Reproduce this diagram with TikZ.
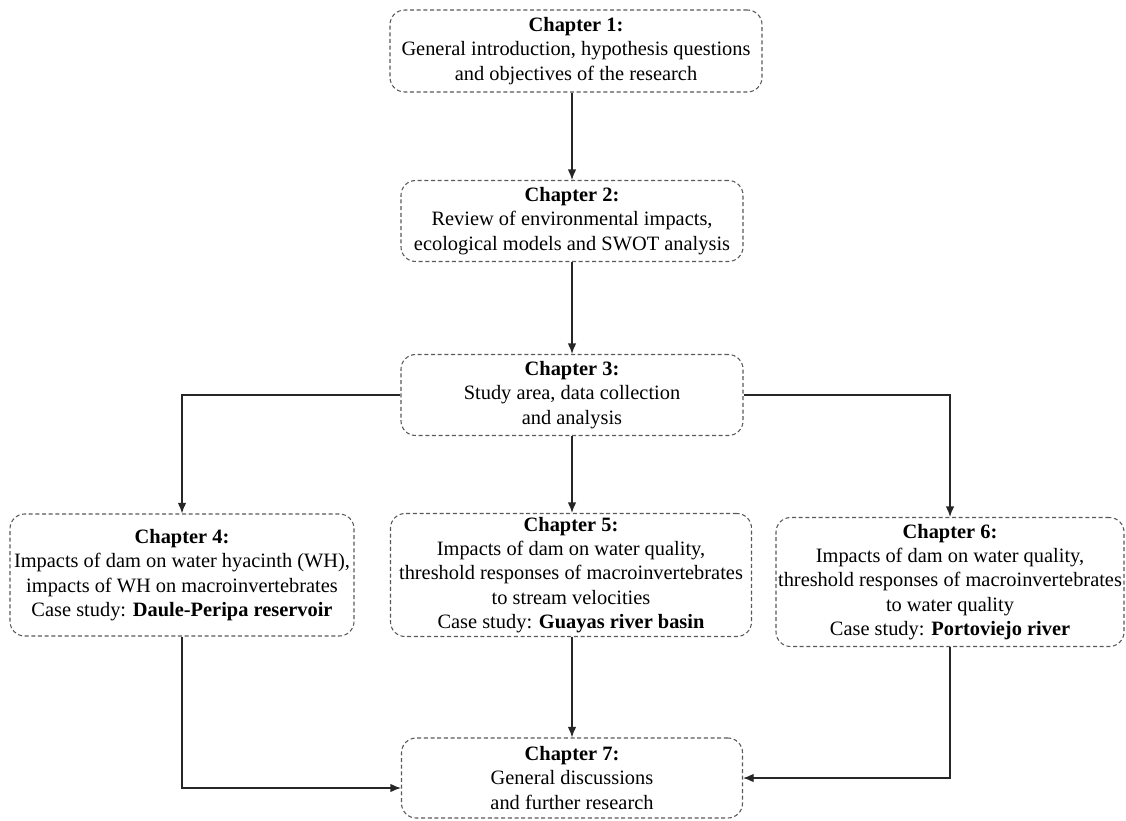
\documentclass[tikz,border=0pt]{standalone}
\usepackage{fontspec}
\setmainfont{Liberation Serif}
\usetikzlibrary{arrows.meta}
\begin{document}
\begin{tikzpicture}[x=0.75pt,y=-0.75pt,
  box/.style={draw=black!65, dashed, dash pattern=on 3pt off 2pt, line width=0.8pt,
    rounded corners=11pt, align=center, inner sep=0pt,
    font=\fontsize{15.3}{18.2}\selectfont},
  arr/.style={draw=black!85, line width=1.05pt, -{Latex[length=8pt,width=6.5pt]}}]
\useasboundingbox (0,0) rectangle (1126,820);
\node[box, minimum width=279pt, minimum height=61.5pt] (c1) at (576,51)
  {\textbf{Chapter 1:}\\General introduction, hypothesis questions\\and objectives of the research};
\node[box, minimum width=256.5pt, minimum height=60.75pt] (c2) at (572,221)
  {\textbf{Chapter 2:}\\Review of environmental impacts,\\ecological models and SWOT analysis};
\node[box, minimum width=256.5pt, minimum height=60.75pt] (c3) at (572,395)
  {\textbf{Chapter 3:}\\Study area, data collection\\and analysis};
\node[box, minimum width=258pt, minimum height=91.5pt] (c4) at (182,575)
  {\textbf{Chapter 4:}\\Impacts of dam on water hyacinth (WH),\\impacts of WH on macroinvertebrates\\Case study: \textbf{Daule-Peripa reservoir}};
\node[box, minimum width=270.75pt, minimum height=92.25pt] (c5) at (571,575)
  {\textbf{Chapter 5:}\\Impacts of dam on water quality,\\threshold responses of macroinvertebrates\\to stream velocities\\Case study: \textbf{Guayas river basin}};
\node[box, minimum width=261pt, minimum height=96.75pt] (c6) at (950,582)
  {\textbf{Chapter 6:}\\Impacts of dam on water quality,\\threshold responses of macroinvertebrates\\to water quality\\Case study: \textbf{Portoviejo river}};
\node[box, minimum width=255.75pt, minimum height=60pt] (c7) at (572,778)
  {\textbf{Chapter 7:}\\General discussions\\and further research};
\draw[arr] (c1.south -| c2.north) -- (c2.north);
\draw[arr] (c2.south) -- (c3.north);
\draw[arr] (c3.west) -| (c4.north);
\draw[arr] (c3.east) -| (c6.north);
\draw[arr] (c3.south) -- (c3.south |- c5.north);
\draw[arr] (c4.south) |- ([yshift=-7.5pt]c7.west);
\draw[arr] (c5.south -| c7.north) -- (c7.north);
\draw[arr] (c6.south) |- (c7.east);
\end{tikzpicture}
\end{document}
